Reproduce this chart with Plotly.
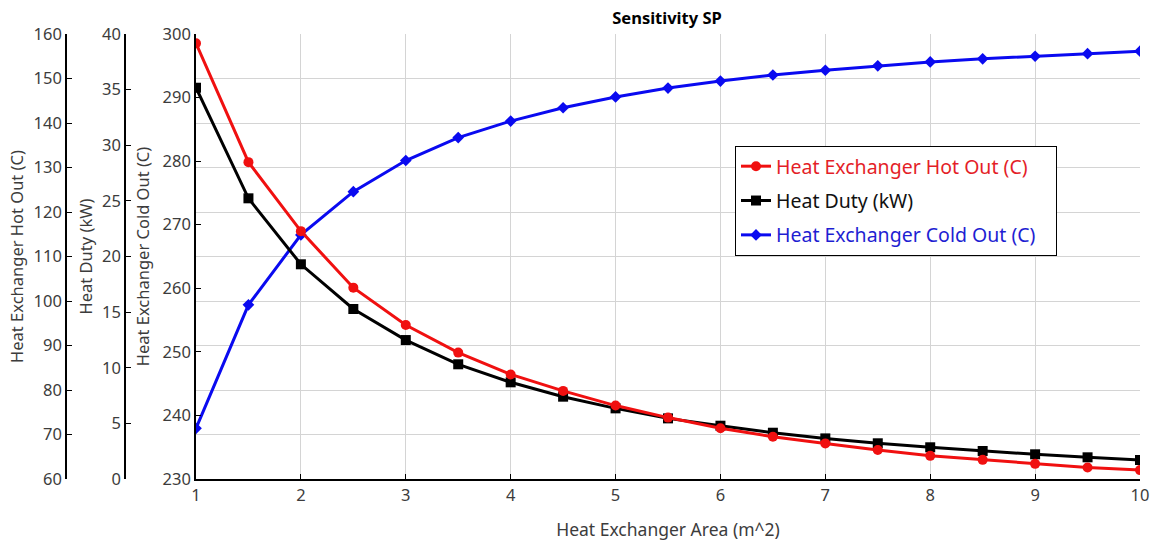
import plotly.graph_objects as go

# Heat exchanger area sweep (m^2)
area = [1, 1.5, 2, 2.5, 3, 3.5, 4, 4.5, 5, 5.5, 6, 6.5, 7, 7.5, 8, 8.5, 9, 9.5, 10]

# Hot stream outlet temperature (C)
hot_out = [157.9, 131.2, 115.7, 103.0, 94.6, 88.4, 83.5, 79.8, 76.5, 73.8,
           71.4, 69.5, 68.0, 66.5, 65.2, 64.3, 63.4, 62.6, 62.0]

# Exchanger heat duty (kW)
heat_duty = [35.17, 25.23, 19.3, 15.28, 12.49, 10.31, 8.69, 7.40, 6.35, 5.45,
             4.79, 4.16, 3.65, 3.21, 2.85, 2.52, 2.22, 1.95, 1.71]

# Cold stream outlet temperature (C)
cold_out = [237.97, 257.4, 268.4, 275.2, 280.1, 283.7, 286.3, 288.4, 290.1, 291.5,
            292.6, 293.55, 294.3, 295.0, 295.6, 296.1, 296.5, 296.9, 297.3]

series_names = ["Heat Exchanger Hot Out (C)", "Heat Duty (kW)", "Heat Exchanger Cold Out (C)"]

W, H = 1158, 542
FONT = "Noto Sans"
TICK_COLOR = "#3c3c3c"
RED = "rgb(240,16,16)"
BLUE = "rgb(10,10,240)"
RED_TXT = "rgb(228,30,40)"
BLUE_TXT = "rgb(30,30,210)"
PAD = "&nbsp;" * 3  # extra room on the right of the legend text

fig = go.Figure()

fig.add_trace(go.Scatter(
    x=area, y=hot_out, yaxis="y3", legendgroup="hot",
    name=f"<span style='color:{RED_TXT}'>{series_names[0]}</span>",
    mode="lines+markers", line=dict(color=RED, width=3),
    marker=dict(symbol="circle", size=10, color=RED),
))
fig.add_trace(go.Scatter(
    x=area, y=heat_duty, yaxis="y2", legendgroup="duty",
    name=f"<span style='color:#111'>{series_names[1]}</span>",
    mode="lines+markers", line=dict(color="black", width=3),
    marker=dict(symbol="square", size=10, color="black"),
))
fig.add_trace(go.Scatter(
    x=area, y=cold_out, yaxis="y", legendgroup="cold",
    name=f"<span style='color:{BLUE_TXT}'>{series_names[2]}</span>{PAD}",
    mode="lines+markers", line=dict(color=BLUE, width=3),
    marker=dict(symbol="diamond", size=9, color=BLUE),
))

x0, x1 = 196 / W, 1140 / W

axis_common = dict(
    showline=True, linecolor="black", linewidth=1.5,
    ticks="inside", ticklen=5, tickcolor="black",
    tickfont=dict(family=FONT, size=16.5, color=TICK_COLOR),
    zeroline=False, automargin=False,
)
title_font = dict(family=FONT, size=16.5, color=TICK_COLOR)

fig.update_layout(
    width=W, height=H,
    margin=dict(l=0, r=0, t=34, b=63, autoexpand=False),
    paper_bgcolor="white", plot_bgcolor="white",
    title=dict(text="<b>Sensitivity SP</b>", x=667 / W, xanchor="center",
               y=1 - 18 / H, yanchor="middle",
               font=dict(family=FONT, size=16.5, color="black")),
    xaxis=dict(
        domain=[x0, x1], range=[1, 10], dtick=1,
        showgrid=True, gridcolor="#d4d4d4", gridwidth=1,
        title=dict(text="Heat Exchanger Area (m^2)", standoff=19,
                   font=dict(family=FONT, size=17.5, color=TICK_COLOR)),
        **axis_common,
    ),
    yaxis=dict(
        range=[230, 300], dtick=10, showgrid=False,
        anchor="x", side="left",
        title=dict(text=series_names[2], standoff=9, font=title_font),
        **axis_common,
    ),
    yaxis2=dict(
        range=[0, 40], dtick=5, showgrid=False,
        overlaying="y", anchor="free", side="left", position=125 / W,
        title=dict(text=series_names[1], standoff=4, font=title_font),
        **axis_common,
    ),
    yaxis3=dict(
        range=[60, 160], dtick=10,
        showgrid=True, gridcolor="#d4d4d4", gridwidth=1,
        overlaying="y", anchor="free", side="left", position=66 / W,
        title=dict(text=series_names[0], standoff=5, font=title_font),
        **axis_common,
    ),
    legend=dict(
        x=735 / W, y=(479 - 146) / 445, xanchor="left", yanchor="top",
        bgcolor="white", bordercolor="black", borderwidth=1,
        font=dict(family=FONT, size=19.5),
        itemwidth=30, tracegroupgap=6,
    ),
    showlegend=True,
)

fig.write_html("out.html")
